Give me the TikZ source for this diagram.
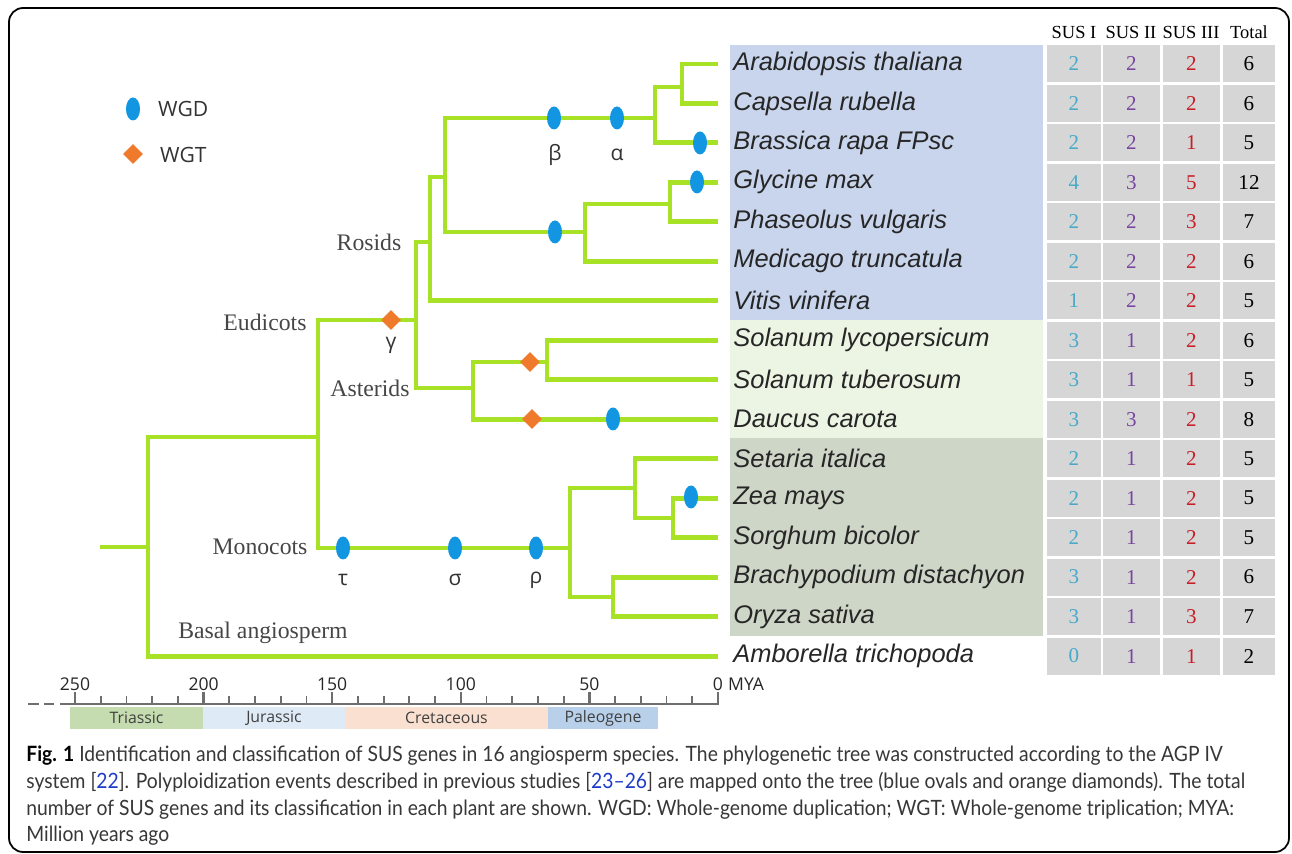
\documentclass[tikz,border=0pt]{standalone}
\usepackage{fontspec}
\setmainfont{Liberation Serif}
\newfontfamily\speciesfont{Liberation Sans}
\newfontfamily\markfont{Open Sans}
\newfontfamily\capfont[FakeStretch=0.915]{Lato}
\usetikzlibrary{shapes.geometric}
\definecolor{branchgreen}{RGB}{168,226,38}
\definecolor{wgdblue}{RGB}{18,150,226}
\definecolor{wgtorange}{RGB}{240,122,44}
\definecolor{rosidbg}{RGB}{201,213,236}
\definecolor{asteridbg}{RGB}{236,245,228}
\definecolor{monocotbg}{RGB}{206,214,200}
\definecolor{cellgray}{RGB}{214,214,214}
\definecolor{susone}{RGB}{72,170,200}
\definecolor{sustwo}{RGB}{120,70,160}
\definecolor{susthree}{RGB}{200,30,40}
\definecolor{cladegray}{RGB}{70,70,70}
\definecolor{axisgray}{RGB}{110,110,110}
\definecolor{triassic}{RGB}{196,220,176}
\definecolor{jurassic}{RGB}{222,234,246}
\definecolor{cretaceous}{RGB}{250,224,208}
\definecolor{paleogene}{RGB}{184,208,234}
\definecolor{refblue}{RGB}{30,60,200}
\definecolor{captext}{RGB}{55,55,55}

\begin{document}
\begin{tikzpicture}[
  x=0.02cm,
  y=-0.02cm,
  branch/.style={
    draw=branchgreen,
    line width=2.8pt
  },
  wgd/.style={
    ellipse,
    fill=wgdblue,
    inner sep=0pt,
    minimum width=0.28cm,
    minimum height=0.46cm
  },
  wgt/.style={
    diamond,
    fill=wgtorange,
    inner sep=0pt,
    minimum width=0.4cm,
    minimum height=0.4cm
  },
  event label/.style={
    font=\markfont\fontsize{12}{14}\selectfont,
    text=black!80
  },
  key label/.style={
    event label,
    anchor=west
  },
  clade label/.style={
    font=\fontsize{13.5}{16}\selectfont,
    text=cladegray
  },
  species/.style={
    anchor=west,
    inner sep=0pt,
    font=\speciesfont\itshape\fontsize{14.5}{17}\selectfont,
    text=black!85
  },
  cell/.style={
    fill=cellgray,
    inner sep=0pt,
    minimum height=0.74cm,
    font=\fontsize{12}{14}\selectfont
  },
  head/.style={
    font=\fontsize{10.5}{12}\selectfont
  },
  tick label/.style={
    font=\markfont\fontsize{10}{12}\selectfont,
    text=black!85
  },
  period/.style={
    inner sep=0pt,
    minimum height=0.46cm,
    font=\markfont\fontsize{9}{11}\selectfont,
    text=black!75
  },
  caption line/.style={
    anchor=base west,
    inner sep=0pt,
    font=\capfont\fontsize{12}{15}\selectfont,
    text=captext
  }
]

\useasboundingbox (0,0) rectangle (1292,854);
\draw[line width=1pt, rounded corners=8pt] (9,8) rectangle (1289,852);

\def\rowstep{39.47}
\def\axisy{704}

% coloured bands behind the species names
\fill[rosidbg] (730,45) rectangle (1043,320);
\fill[asteridbg] (730,320) rectangle (1043,438);
\fill[monocotbg] (730,438) rectangle (1043,636);

% species names and the tip of each branch
\foreach \i/\name in {
  1/Arabidopsis thaliana,
  2/Capsella rubella,
  3/Brassica rapa FPsc,
  4/Glycine max,
  5/Phaseolus vulgaris,
  6/Medicago truncatula,
  7/Vitis vinifera,
  8/Solanum lycopersicum,
  9/Solanum tuberosum,
  10/Daucus carota,
  11/Setaria italica,
  12/Zea mays,
  13/Sorghum bicolor,
  14/Brachypodium distachyon,
  15/Oryza sativa,
  16/Amborella trichopoda}{
  \pgfmathsetmacro{\yy}{64+\rowstep*(\i-1)}
  \coordinate (leaf-\i) at (718,\yy);
  \node[species] (sp-\i) at (733,\yy) {\name};
}

% SUS gene counts
\node[head] (head-one) at (1074,32) {SUS I};
\node[head] (head-two) at (1131,32) {SUS II};
\node[head] (head-three) at (1191,32) {SUS III};
\node[head] (head-total) at (1249,32) {Total};
\foreach \i/\a/\b/\c/\t in {
  1/2/2/2/6, 2/2/2/2/6, 3/2/2/1/5, 4/4/3/5/12,
  5/2/2/3/7, 6/2/2/2/6, 7/1/2/2/5, 8/3/1/2/6,
  9/3/1/1/5, 10/3/3/2/8, 11/2/1/2/5, 12/2/1/2/5,
  13/2/1/2/5, 14/3/1/2/6, 15/3/1/3/7, 16/0/1/1/2}{
  \pgfmathsetmacro{\yy}{64+\rowstep*(\i-1)}
  \node[cell, minimum width=1.08cm, text=susone] (one-\i) at (1074,\yy) {\a};
  \node[cell, minimum width=1.14cm, text=sustwo] (two-\i) at (1131.5,\yy) {\b};
  \node[cell, minimum width=1.14cm, text=susthree] (three-\i) at (1191.5,\yy) {\c};
  \node[cell, minimum width=1.04cm] (total-\i) at (1249,\yy) {\t};
}

% inner nodes of the tree
\coordinate (stub) at (100,547);
\coordinate (root) at (148,547);
\coordinate (angio) at (318,437);
\coordinate (eudicot) at (416,320);
\coordinate (monocot) at (570,548);
\coordinate (rosid) at (430,242);
\coordinate (asterid) at (473,388);
\coordinate (malvid) at (445,177);
\coordinate (brassic) at (655,118);
\coordinate (arcap) at (682,87);
\coordinate (fabid) at (585,232);
\coordinate (phaseol) at (670,204);
\coordinate (solan) at (547,362);
\coordinate (panic) at (635,488);
\coordinate (andro) at (673,518);
\coordinate (pooid) at (613,597);

\foreach \from/\to in {
  stub/root, root/angio, root/leaf-16,
  angio/eudicot, angio/monocot,
  eudicot/rosid, eudicot/asterid,
  rosid/malvid, rosid/leaf-7,
  malvid/brassic, malvid/fabid,
  brassic/arcap, brassic/leaf-3,
  arcap/leaf-1, arcap/leaf-2,
  fabid/phaseol, fabid/leaf-6,
  phaseol/leaf-4, phaseol/leaf-5,
  asterid/solan, asterid/leaf-10,
  solan/leaf-8, solan/leaf-9,
  monocot/panic, monocot/pooid,
  panic/leaf-11, panic/andro,
  andro/leaf-12, andro/leaf-13,
  pooid/leaf-14, pooid/leaf-15}{
  \draw[branch] (\from) |- (\to);
}

% clade names
\node[clade label] (rosid-name) at (369,242) {Rosids};
\node[clade label] (eudicot-name) at (265,322) {Eudicots};
\node[clade label] (asterid-name) at (370,388) {Asterids};
\node[clade label] (monocot-name) at (260,547) {Monocots};
\node[clade label] (basal-name) at (263,633) {Basal angiosperm};

% polyploidy events
\node[wgt] (gamma) at (391,320) {};
\node[event label] (gamma-name) at (391,345) {γ};
\node[wgd] (beta) at (554,118) {};
\node[event label] (beta-name) at (555,155) {β};
\node[wgd] (alpha) at (617,118) {};
\node[event label] (alpha-name) at (617,155) {α};
\node[wgd] (brassica-wgd) at (700,143) {};
\node[wgd] (glycine-wgd) at (697,182) {};
\node[wgd] (fabid-wgd) at (555,232) {};
\node[wgt] (solan-wgt) at (530,362) {};
\node[wgt] (daucus-wgt) at (532,419) {};
\node[wgd] (daucus-wgd) at (613,419) {};
\node[wgd] (zea-wgd) at (691,497) {};
\node[wgd] (tau) at (343,548) {};
\node[event label] (tau-name) at (343,580) {τ};
\node[wgd] (sigma) at (455,548) {};
\node[event label] (sigma-name) at (455,580) {σ};
\node[wgd] (rho) at (536,548) {};
\node[event label] (rho-name) at (536,580) {ρ};

% key
\node[wgd] (key-wgd) at (133,109) {};
\node[key label] (key-wgd-name) at (152,109) {WGD};
\node[wgt] (key-wgt) at (133,154) {};
\node[key label] (key-wgt-name) at (154,155) {WGT};

% time scale
\draw[axisgray, line width=1.6pt] (70,\axisy) -- (719,\axisy);
\draw[axisgray, line width=1.6pt, dash pattern=on 6pt off 3pt] (28,\axisy) -- (70,\axisy);
\foreach \t in {10,20,30,40,60,70,80,90,110,120,130,140,160,170,180,190,210,220,230,240}{
  \pgfmathsetmacro{\xx}{718-2.572*\t}
  \draw[axisgray, line width=1pt] (\xx,\axisy) -- (\xx,\axisy-8);
}
\foreach \t in {0,50,...,250}{
  \pgfmathsetmacro{\xx}{718-2.572*\t}
  \draw[axisgray, line width=1.4pt] (\xx,\axisy) -- (\xx,\axisy-12);
  \node[tick label] (tick-\t) at (\xx,684) {\t};
}
\node[tick label, anchor=west] (mya) at (722,684) {MYA};

\node[period, fill=triassic, minimum width=2.66cm] (triassic) at (136.5,718) {Triassic};
\node[period, fill=jurassic, minimum width=2.84cm] (jurassic) at (274,718) {Jurassic};
\node[period, fill=cretaceous, minimum width=4.06cm] (cretaceous) at (446.5,718) {Cretaceous};
\node[period, fill=paleogene, minimum width=2.2cm] (paleogene) at (603,718) {Paleogene};

% caption
\node[caption line] (cap-1) at (26,762) {{\color{black}\bfseries Fig. 1} Identification and classification of SUS genes in 16 angiosperm species. The phylogenetic tree was constructed according to the AGP IV};
\node[caption line] (cap-2) at (26,788) {system [{\color{refblue}22}]. Polyploidization events described in previous studies [{\color{refblue}23–26}] are mapped onto the tree (blue ovals and orange diamonds). The total};
\node[caption line] (cap-3) at (26,815) {number of SUS genes and its classification in each plant are shown. WGD: Whole-genome duplication; WGT: Whole-genome triplication; MYA:};
\node[caption line] (cap-4) at (26,841) {Million years ago};

\end{tikzpicture}
\end{document}
